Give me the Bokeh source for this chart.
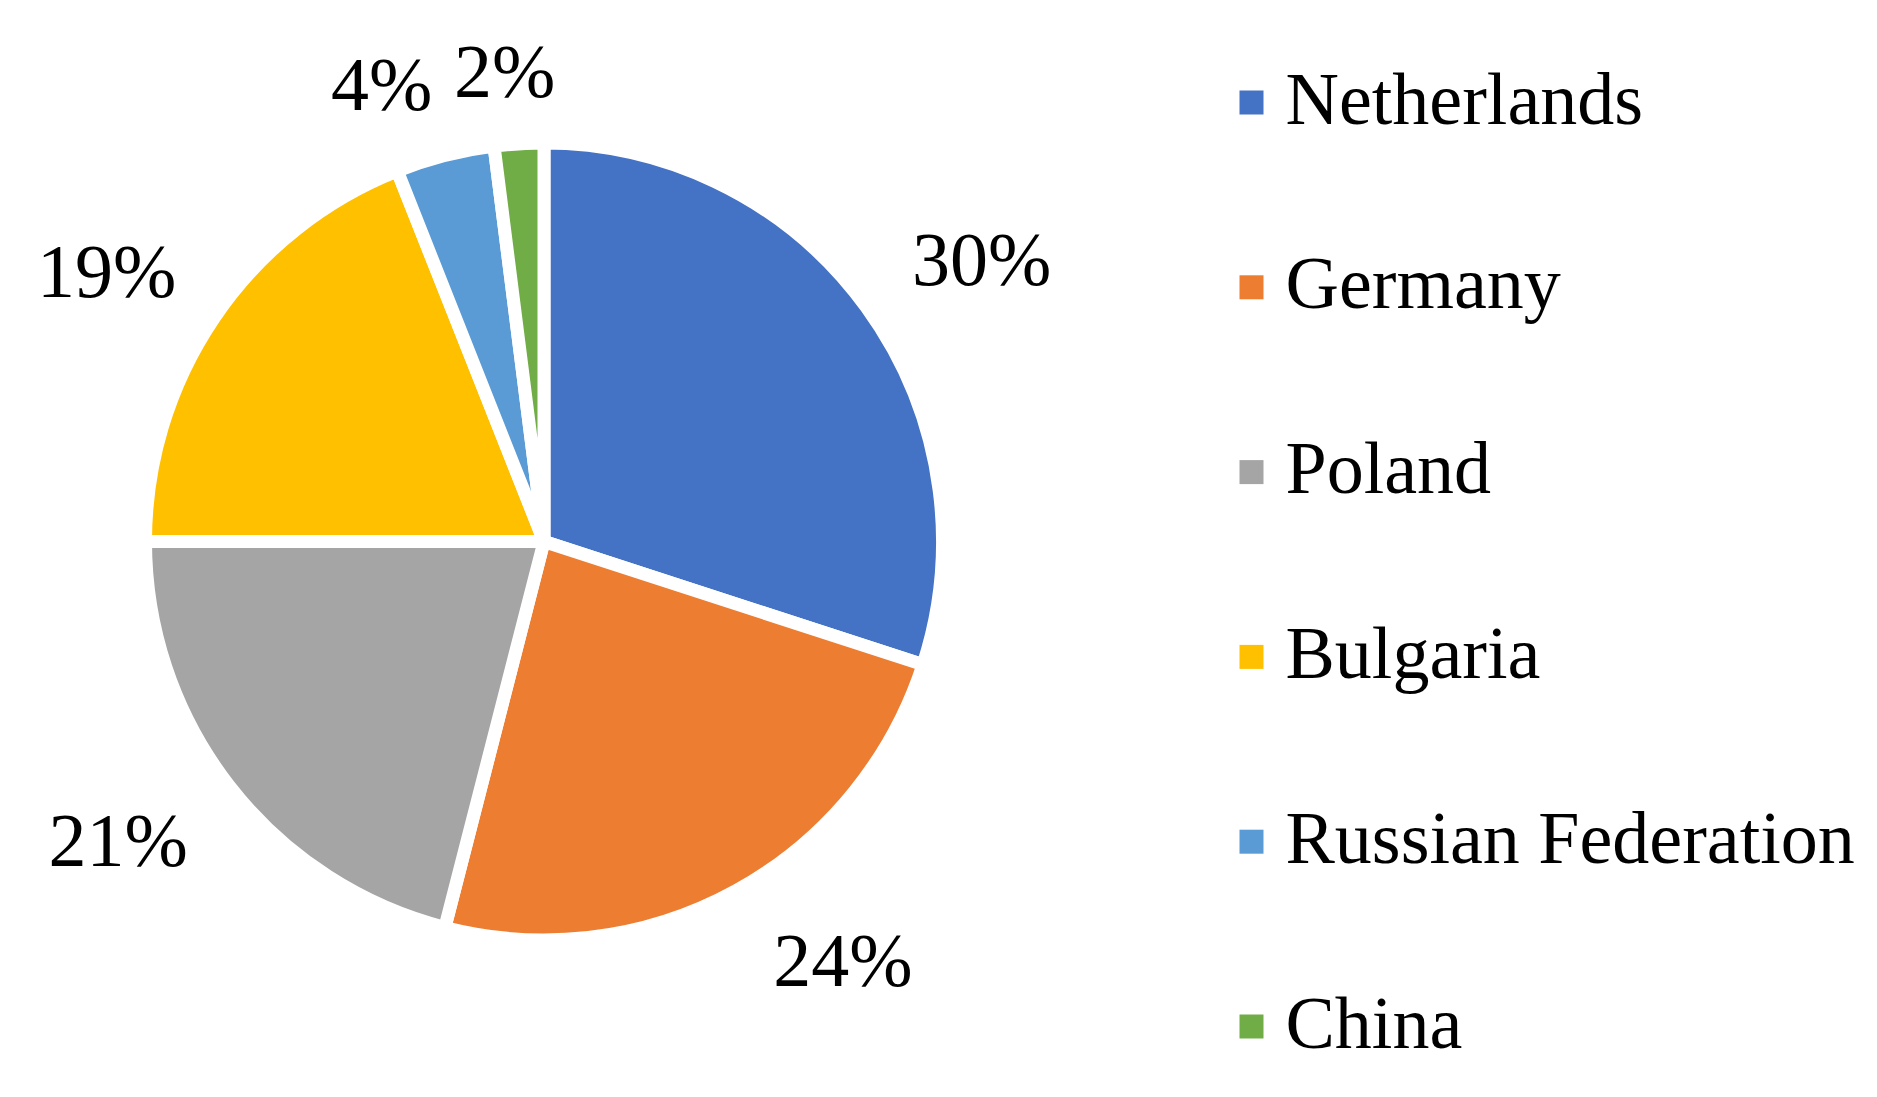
import math
from bokeh.plotting import figure
from bokeh.models import Range1d, ColumnDataSource
from bokeh.core.properties import value
from bokeh.embed import file_html
from bokeh.resources import INLINE

# ---- data ----
countries = ["Netherlands", "Germany", "Poland", "Bulgaria", "Russian Federation", "China"]
shares = [30, 24, 21, 19, 4, 2]
colors = ["#4472C4", "#ED7D31", "#A5A5A5", "#FFC000", "#5B9BD5", "#70AD47"]

# ---- layout (pixels of the page) ----
W, H = 1861, 1081
CX, CY = 543.5, H - 541.0      # pie centre in plot coords (y up)
R_VISIBLE = 392.0
BORDER = 13
TEXT_DY = 28                   # baseline correction for rendered text
label_dist = [520, 516, 521, 513, 484, 470]
label_ang = [32.7, -54.6, -144.8, 148.5, 109.6, 94.8]
FONT = value("Liberation Serif")
FS = "76px"
FS_LEG = "74px"

p = figure(width=W, height=H, output_backend="svg", toolbar_location=None,
           x_range=Range1d(0, W), y_range=Range1d(0, H),
           x_axis_type=None, y_axis_type=None, min_border=0)
p.outline_line_color = None
p.grid.visible = False
p.background_fill_color = "white"
p.border_fill_color = "white"

total = float(sum(shares))
starts, ends = [], []
cum = 0.0
for s in shares:
    a0 = 90 - (cum + s) / total * 360
    a1 = 90 - cum / total * 360
    starts.append(math.radians(a0))
    ends.append(math.radians(a1))
    cum += s

src = ColumnDataSource(dict(x=[CX] * len(shares), y=[CY] * len(shares),
                            start=starts, end=ends, color=colors))
p.wedge(x="x", y="y", radius=R_VISIBLE + BORDER / 2, start_angle="start", end_angle="end",
        fill_color="color", line_color="white", line_width=BORDER, source=src)

# data labels
lx, ly, lt = [], [], []
for s, d, a in zip(shares, label_dist, label_ang):
    lx.append(CX + d * math.cos(math.radians(a)))
    ly.append(CY + d * math.sin(math.radians(a)) - 26 + TEXT_DY)
    lt.append(f"{round(s / total * 100)}%")
p.text(x=lx, y=ly, text=lt, text_font=FONT, text_font_size=FS,
       text_align="center", text_baseline="alphabetic", text_color="black")

# legend
LEG_X, LEG_TOP, LEG_STEP = 1251, H - 102, 184.8
sy = [LEG_TOP - i * LEG_STEP for i in range(len(countries))]
p.rect(x=[LEG_X] * len(countries), y=sy, width=24, height=24,
       width_units="screen", height_units="screen",
       fill_color=colors, line_color=None)
p.text(x=[LEG_X + 34] * len(countries), y=[v - 24 + TEXT_DY for v in sy], text=countries,
       text_font=FONT, text_font_size=FS_LEG, text_align="left",
       text_baseline="alphabetic", text_color="black")

open("out.html", "w").write(file_html(p, INLINE))
